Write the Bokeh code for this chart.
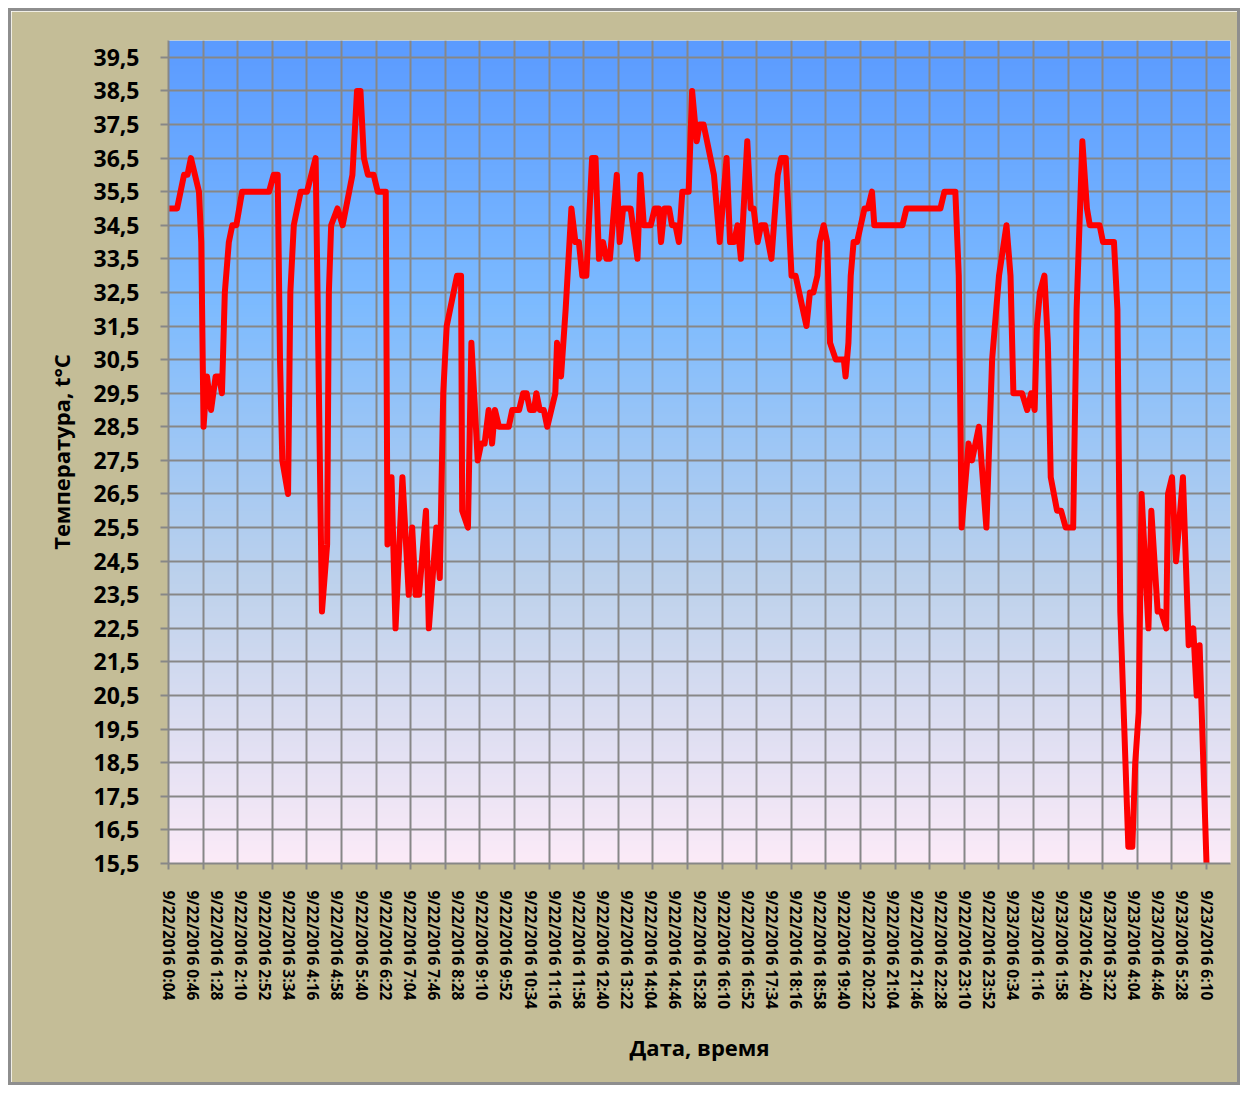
import numpy as np
from bokeh.plotting import figure
from bokeh.models import FixedTicker, Range1d, CustomJSTickFormatter
from bokeh.embed import file_html
from bokeh.resources import INLINE

# ---- data: minutes since 9/22/2016 0:04, temperature in degrees C ----
minutes = [0, 15, 27, 33, 39, 53, 57, 61, 67, 74, 82, 88, 93, 98, 105, 111, 118, 128, 175, 183,
           190, 194, 198, 208, 212, 218, 230, 241, 256, 267, 276, 279, 283, 294, 303, 320, 328, 334, 340, 347,
           357, 364, 378, 381, 388, 395, 407, 418, 424, 430, 436, 448, 453, 466, 472, 478, 484, 502, 509, 511,
           521, 527, 538, 544, 550, 557, 563, 568, 575, 592, 598, 610, 617, 623, 629, 636, 640, 646, 653, 659,
           673, 676, 683, 691, 701, 708, 714, 720, 727, 737, 743, 749, 756, 762, 768, 780, 785, 791, 804, 816,
           821, 827, 839, 846, 853, 857, 863, 871, 876, 882, 888, 894, 905, 911, 919, 924, 931, 949, 959, 971,
           977, 984, 990, 996, 1007, 1013, 1018, 1025, 1031, 1038, 1049, 1060, 1066, 1074, 1084, 1091, 1110, 1116, 1122, 1129,
           1133, 1140, 1146, 1151, 1161, 1175, 1178, 1183, 1187, 1192, 1198, 1211, 1217, 1224, 1228, 1277, 1284, 1343, 1350, 1369,
           1375, 1380, 1392, 1398, 1410, 1423, 1433, 1445, 1458, 1465, 1470, 1485, 1494, 1501, 1507, 1511, 1516, 1524, 1530, 1535,
           1546, 1553, 1561, 1574, 1580, 1590, 1598, 1603, 1620, 1626, 1645, 1651, 1656, 1670, 1677, 1682, 1688, 1693, 1705, 1710,
           1721, 1727, 1736, 1739, 1746, 1753, 1765, 1775, 1783, 1789, 1794, 1806]
temps = [35.0, 35.0, 36.0, 36.0, 36.5, 35.5, 34.0, 28.5, 30.0, 29.0, 30.0, 30.0, 29.5, 32.5, 34.0, 34.5, 34.5, 35.5, 35.5, 36.0,
         36.0, 30.5, 27.5, 26.5, 32.5, 34.5, 35.5, 35.5, 36.5, 23.0, 25.0, 32.5, 34.5, 35.0, 34.5, 36.0, 38.5, 38.5, 36.5, 36.0,
         36.0, 35.5, 35.5, 25.0, 27.0, 22.5, 27.0, 23.5, 25.5, 23.5, 23.5, 26.0, 22.5, 25.5, 24.0, 29.5, 31.5, 33.0, 33.0, 26.0,
         25.5, 31.0, 27.5, 28.0, 28.0, 29.0, 28.0, 29.0, 28.5, 28.5, 29.0, 29.0, 29.5, 29.5, 29.0, 29.0, 29.5, 29.0, 29.0, 28.5,
         29.5, 31.0, 30.0, 32.0, 35.0, 34.0, 34.0, 33.0, 33.0, 36.5, 36.5, 33.5, 34.0, 33.5, 33.5, 36.0, 34.0, 35.0, 35.0, 33.5,
         36.0, 34.5, 34.5, 35.0, 35.0, 34.0, 35.0, 35.0, 34.5, 34.5, 34.0, 35.5, 35.5, 38.5, 37.0, 37.5, 37.5, 36.0, 34.0, 36.5,
         34.0, 34.0, 34.5, 33.5, 37.0, 35.0, 35.0, 34.0, 34.5, 34.5, 33.5, 36.0, 36.5, 36.5, 33.0, 33.0, 31.5, 32.5, 32.5, 33.0,
         34.0, 34.5, 34.0, 31.0, 30.5, 30.5, 30.0, 31.0, 33.0, 34.0, 34.0, 35.0, 35.0, 35.5, 34.5, 34.5, 35.0, 35.0, 35.5, 35.5,
         33.0, 25.5, 28.0, 27.5, 28.5, 25.5, 30.5, 33.0, 34.5, 33.0, 29.5, 29.5, 29.0, 29.5, 29.0, 31.5, 32.5, 33.0, 31.0, 27.0,
         26.0, 26.0, 25.5, 25.5, 32.0, 37.0, 35.0, 34.5, 34.5, 34.0, 34.0, 32.0, 23.0, 16.0, 16.0, 18.5, 20.0, 26.5, 22.5, 26.0,
         23.0, 23.0, 22.5, 26.5, 27.0, 24.5, 27.0, 22.0, 22.5, 20.5, 22.0, 15.5]

tick_labels = ["9/22/2016 0:04", "9/22/2016 0:46", "9/22/2016 1:28", "9/22/2016 2:10", "9/22/2016 2:52",
               "9/22/2016 3:34", "9/22/2016 4:16", "9/22/2016 4:58", "9/22/2016 5:40", "9/22/2016 6:22",
               "9/22/2016 7:04", "9/22/2016 7:46", "9/22/2016 8:28", "9/22/2016 9:10", "9/22/2016 9:52",
               "9/22/2016 10:34", "9/22/2016 11:16", "9/22/2016 11:58", "9/22/2016 12:40", "9/22/2016 13:22",
               "9/22/2016 14:04", "9/22/2016 14:46", "9/22/2016 15:28", "9/22/2016 16:10", "9/22/2016 16:52",
               "9/22/2016 17:34", "9/22/2016 18:16", "9/22/2016 18:58", "9/22/2016 19:40", "9/22/2016 20:22",
               "9/22/2016 21:04", "9/22/2016 21:46", "9/22/2016 22:28", "9/22/2016 23:10", "9/22/2016 23:52",
               "9/23/2016 0:34", "9/23/2016 1:16", "9/23/2016 1:58", "9/23/2016 2:40", "9/23/2016 3:22",
               "9/23/2016 4:04", "9/23/2016 4:46", "9/23/2016 5:28", "9/23/2016 6:10"]
label_step = 42          # minutes between tick labels
grid_count = 30          # vertical grid intervals over the data span
y_ticks = [15.5 + i for i in range(25)]

# ---- layout (canvas placed at page 11,11 inside an 8px margin + 3px border) ----
W, H = 1232, 1077
x_end = minutes[-1] * (1230 - 168) / (1206 - 168)
label_pos = [i * label_step for i in range(len(tick_labels))]
span = minutes[-1]
grid_pos = [span * k / grid_count for k in range(grid_count + 1)]

p = figure(width=W, height=H, output_backend="svg", toolbar_location=None,
           x_range=Range1d(0, x_end), y_range=Range1d(15.5, 40.0),
           min_border_left=157, min_border_right=W - 1219,
           min_border_top=29, min_border_bottom=H - 852)
p.border_fill_color = "#C4BD97"
p.background_fill_color = None
p.outline_line_color = None
p.styles = {"border": "3px solid #8E8E8E", "margin-left": "8px", "margin-top": "8px"}

# gradient background of the plot area
stops = [0.0, 0.32, 0.66, 1.0]
cols = [(91, 155, 255), (125, 187, 255), (190, 210, 236), (252, 235, 248)]
n = 823
frac = np.linspace(0, 1, n)
img = np.zeros((n, 1), dtype=np.uint32)
view = img.view(dtype=np.uint8).reshape((n, 1, 4))
for c in range(3):
    view[:, 0, c] = np.interp(frac, stops, [col[c] for col in cols]).astype(np.uint8)
view[:, 0, 3] = 255
p.image_rgba(image=[img[::-1]], x=0, y=15.5, dw=x_end, dh=24.5, level="image")

p.line(minutes, temps, line_color="#FF0000", line_width=6, line_join="round", line_cap="round")

grid_col = "#878787"
# x axis
p.xaxis.ticker = FixedTicker(ticks=label_pos, minor_ticks=grid_pos)
p.xaxis.major_label_overrides = {pos: lab for pos, lab in zip(label_pos, tick_labels)}
p.xaxis.major_label_orientation = "vertical"
p.xaxis.major_tick_line_color = None
p.xaxis.major_tick_out = 0
p.xaxis.major_tick_in = 0
p.xaxis.minor_tick_line_color = grid_col
p.xaxis.minor_tick_line_width = 2
p.xaxis.minor_tick_out = 6
p.xaxis.minor_tick_in = 0
p.xaxis.major_label_standoff = 21
p.xaxis.major_label_text_font = "Open Sans"
p.xaxis.major_label_text_font_style = "bold"
p.xaxis.major_label_text_font_size = "15.5px"
p.xaxis.major_label_text_color = "#000000"
p.xaxis.axis_label = "Дата, время"
p.xaxis.axis_label_text_font = "Open Sans"
p.xaxis.axis_label_text_font_style = "bold"
p.xaxis.axis_label_text_font_size = "22px"
p.xaxis.axis_label_text_color = "#000000"
p.xaxis.axis_label_standoff = 20
p.xaxis.axis_line_color = grid_col
p.xaxis.axis_line_width = 2

# y axis
p.yaxis.ticker = FixedTicker(ticks=y_ticks)
p.yaxis.formatter = CustomJSTickFormatter(code="return tick.toFixed(1).replace('.', ',');")
p.yaxis.major_tick_line_color = grid_col
p.yaxis.major_tick_line_width = 2
p.yaxis.major_tick_out = 8
p.yaxis.major_tick_in = 0
p.yaxis.minor_tick_line_color = None
p.yaxis.major_label_standoff = 21
p.yaxis.major_label_text_font = "Open Sans"
p.yaxis.major_label_text_font_style = "bold"
p.yaxis.major_label_text_font_size = "23px"
p.yaxis.major_label_text_color = "#000000"
p.yaxis.axis_label = "Температура, t°C"
p.yaxis.axis_label_text_font = "Open Sans"
p.yaxis.axis_label_text_font_style = "bold"
p.yaxis.axis_label_text_font_size = "22px"
p.yaxis.axis_label_text_color = "#000000"
p.yaxis.axis_label_standoff = 14
p.yaxis.axis_line_color = grid_col
p.yaxis.axis_line_width = 2

# grids
p.xgrid.ticker = FixedTicker(ticks=grid_pos)
p.xgrid.grid_line_color = grid_col
p.xgrid.grid_line_width = 2
p.ygrid.grid_line_color = grid_col
p.ygrid.grid_line_width = 2

open("out.html", "w").write(file_html(p, INLINE))
